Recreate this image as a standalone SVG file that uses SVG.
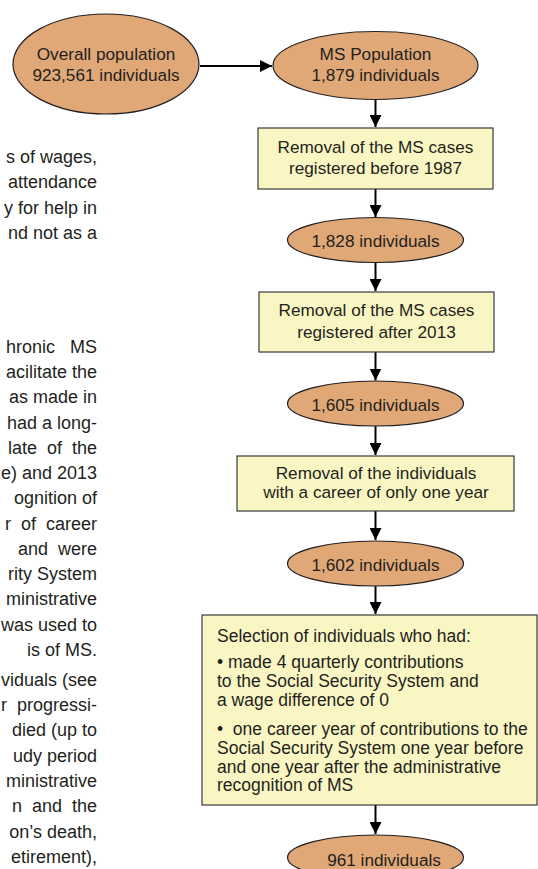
<svg xmlns="http://www.w3.org/2000/svg" width="538" height="869" viewBox="0 0 538 869">
<style>
.bg{fill:#ffffff}
.ell{fill:#e1a877;stroke:#231f20;stroke-width:1.2}
.box{fill:#faf6c3;stroke:#3a3a3a;stroke-width:1.2}
.t{font-family:"Liberation Sans",Arial,sans-serif;font-size:17.2px;fill:#231f20;text-anchor:middle}
.tl{font-family:"Liberation Sans",Arial,sans-serif;font-size:17.5px;fill:#231f20}
.body{font-family:"Liberation Sans",Arial,sans-serif;font-size:18px;fill:#231f20;text-anchor:end}
.con line{stroke:#000;stroke-width:2}
</style>
<defs>
<marker id="ah" markerUnits="userSpaceOnUse" markerWidth="12" markerHeight="12" viewBox="0 0 10 10" refX="10" refY="5" orient="auto">
<path d="M0,0 L10,5 L0,10 z" fill="#000"/>
</marker>
</defs>
<rect class="bg" x="0" y="0" width="538" height="869"/>

<g id="body-text">
<text class="body" x="97" y="163">s of wages,</text>
<text class="body" x="97" y="188">attendance</text>
<text class="body" x="97" y="214">y for help in</text>
<text class="body" x="97" y="239">nd not as a</text>
<text class="body" x="97" y="353" xml:space="preserve">hronic   MS</text>
<text class="body" x="97" y="378">acilitate the</text>
<text class="body" x="97" y="403">as made in</text>
<text class="body" x="97" y="429">had a long-</text>
<text class="body" x="97" y="454" xml:space="preserve">late  of  the</text>
<text class="body" x="97" y="479">e) and 2013</text>
<text class="body" x="97" y="504">ognition of</text>
<text class="body" x="97" y="530" xml:space="preserve">r  of  career</text>
<text class="body" x="97" y="555" xml:space="preserve">and  were</text>
<text class="body" x="97" y="580">rity System</text>
<text class="body" x="97" y="605">ministrative</text>
<text class="body" x="97" y="631">was used to</text>
<text class="body" x="97" y="656">is of MS.</text>
<text class="body" x="97" y="686">viduals (see</text>
<text class="body" x="97" y="711" xml:space="preserve">r  progressi-</text>
<text class="body" x="97" y="736">died (up to</text>
<text class="body" x="97" y="762">udy period</text>
<text class="body" x="97" y="787">ministrative</text>
<text class="body" x="97" y="812" xml:space="preserve">n  and  the</text>
<text class="body" x="97" y="838">on’s death,</text>
<text class="body" x="97" y="863">etirement),</text>
</g>

<g id="connectors" class="con">
<line x1="200" y1="66" x2="272" y2="66" marker-end="url(#ah)"/>
<line x1="375.5" y1="99.5" x2="375.5" y2="127" marker-end="url(#ah)"/>
<line x1="375.5" y1="189" x2="375.5" y2="217" marker-end="url(#ah)"/>
<line x1="375.5" y1="262.5" x2="375.5" y2="291" marker-end="url(#ah)"/>
<line x1="375.5" y1="352" x2="375.5" y2="380.5" marker-end="url(#ah)"/>
<line x1="375.5" y1="426" x2="375.5" y2="455" marker-end="url(#ah)"/>
<line x1="375.5" y1="511" x2="375.5" y2="540" marker-end="url(#ah)"/>
<line x1="375.5" y1="586" x2="375.5" y2="614" marker-end="url(#ah)"/>
<line x1="375.5" y1="805" x2="375.5" y2="834" marker-end="url(#ah)"/>
</g>

<g id="overall">
<ellipse class="ell" cx="106" cy="64" rx="93" ry="50"/>
<text class="t" x="106" y="60">Overall population</text>
<text class="t" x="106" y="81">923,561 individuals</text>
</g>

<g id="ms-population">
<ellipse class="ell" cx="375.5" cy="65.5" rx="102.5" ry="34"/>
<text class="t" x="375.5" y="60">MS Population</text>
<text class="t" x="375.5" y="81">1,879 individuals</text>
</g>

<g id="remove-before-1987">
<rect class="box" x="258" y="128" width="235" height="61"/>
<text class="t" x="375.5" y="153">Removal of the MS cases</text>
<text class="t" x="375.5" y="174">registered before 1987</text>
</g>

<g id="n1828">
<ellipse class="ell" cx="375.5" cy="240" rx="88" ry="22.5"/>
<text class="t" x="375.5" y="246.5">1,828 individuals</text>
</g>

<g id="remove-after-2013">
<rect class="box" x="259" y="292" width="235" height="60"/>
<text class="t" x="376.5" y="316">Removal of the MS cases</text>
<text class="t" x="376.5" y="337.5">registered after 2013</text>
</g>

<g id="n1605">
<ellipse class="ell" cx="375.5" cy="403.5" rx="88" ry="22.5"/>
<text class="t" x="375.5" y="410.5">1,605 individuals</text>
</g>

<g id="remove-one-year">
<rect class="box" x="237" y="456" width="277" height="55"/>
<text class="t" x="376" y="478.5">Removal of the individuals</text>
<text class="t" x="376" y="497.5">with a career of only one year</text>
</g>

<g id="n1602">
<ellipse class="ell" cx="375.5" cy="563.5" rx="88" ry="22.5"/>
<text class="t" x="375.5" y="570.5">1,602 individuals</text>
</g>

<g id="selection">
<rect class="box" x="202" y="615" width="335" height="190"/>
<text class="tl" x="217" y="642">Selection of individuals who had:</text>
<text class="tl" x="217" y="668">• made 4 quarterly contributions</text>
<text class="tl" x="217" y="687">to the Social Security System and</text>
<text class="tl" x="217" y="706">a wage difference of 0</text>
<text class="tl" x="217" y="735" xml:space="preserve">•  one career year of contributions to the</text>
<text class="tl" x="217" y="754">Social Security System one year before</text>
<text class="tl" x="217" y="773">and one year after the administrative</text>
<text class="tl" x="217" y="791">recognition of MS</text>
</g>

<g id="n961">
<ellipse class="ell" cx="375.5" cy="857.5" rx="88" ry="22.5"/>
<text class="t" x="384" y="866">961 individuals</text>
</g>
</svg>
